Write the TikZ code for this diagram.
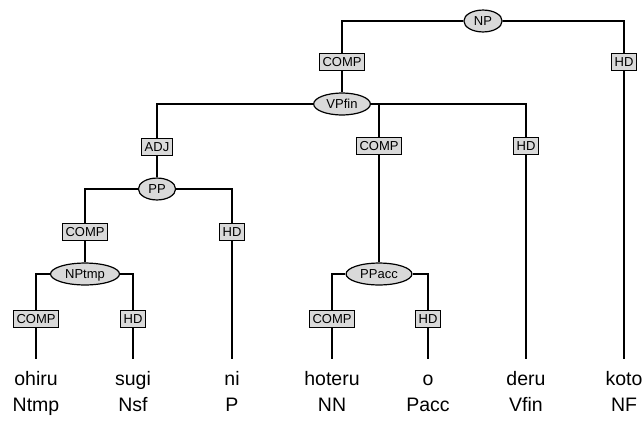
\documentclass[tikz,border=0pt]{standalone}
\usepackage{fontspec}
\setmainfont{Liberation Sans}
\usepackage{tikz}
\usetikzlibrary{shapes.geometric}
\definecolor{shade}{RGB}{217, 217, 217}

\begin{document}
\begin{tikzpicture}[x=1pt, y=-1pt, line width=1.2pt,
    cat/.style={ellipse, draw, fill=shade, font=\fontsize{13}{13}\selectfont,
      inner xsep=4.5pt, inner ysep=3pt, text height=9.5pt, text depth=0pt},
    fn/.style={rectangle, draw, fill=shade, font=\fontsize{13}{13}\selectfont,
      inner xsep=3pt, inner ysep=3.5pt, text height=9.5pt, text depth=0pt},
    word/.style={anchor=base, font=\fontsize{19.5}{19.5}\selectfont,
      inner xsep=0pt, inner ysep=11pt, text height=14pt},
    tag/.style={anchor=base, font=\fontsize{19.5}{19.5}\selectfont, inner sep=0pt}]
  \useasboundingbox (0, 0) rectangle (642, 421);

  \foreach \x/\w/\t [count=\i] in {36/ohiru/Ntmp, 133/sugi/Nsf, 232/ni/P,
      332/hoteru/NN, 428/o/Pacc, 526/deru/Vfin, 624/koto/NF} {
    \node[word] (w\i) at (\x, 385) {\w};
    \node[tag] (t\i) at (\x, 411) {\t};
  }

  \node[cat] (np) at (483, 21) {NP};
  \node[fn] (comp1) at (342, 62) {COMP};
  \node[fn] (hd1) at (624, 62) {HD};
  \node[cat] (vpfin) at (342, 104) {VPfin};
  \node[fn] (adj) at (157, 147) {ADJ};
  \node[fn] (comp2) at (379, 146) {COMP};
  \node[fn] (hd2) at (526, 146) {HD};
  \node[cat] (pp) at (157, 189) {PP};
  \node[fn] (comp3) at (85, 232) {COMP};
  \node[fn] (hd3) at (232, 232) {HD};
  \node[cat] (nptmp) at (85, 274) {NPtmp};
  \node[cat] (ppacc) at (379, 274) {PPacc};
  \node[fn] (comp4) at (36, 319) {COMP};
  \node[fn] (hd4) at (133, 319) {HD};
  \node[fn] (comp5) at (332, 319) {COMP};
  \node[fn] (hd5) at (428, 319) {HD};

  \draw (np) -| (comp1);
  \draw (np) -| (hd1);
  \draw (comp1) -- (vpfin);
  \draw (hd1) -- (w7);
  \draw (vpfin) -| (adj);
  \draw (vpfin) -| (comp2);
  \draw (vpfin) -| (hd2);
  \draw (adj) -- (pp);
  \draw (comp2) -- (ppacc);
  \draw (hd2) -- (w6);
  \draw (pp) -| (comp3);
  \draw (pp) -| (hd3);
  \draw (comp3) -- (nptmp);
  \draw (hd3) -- (w3);
  \draw (nptmp) -| (comp4);
  \draw (nptmp) -| (hd4);
  \draw (ppacc) -| (comp5);
  \draw (ppacc) -| (hd5);
  \draw (comp4) -- (w1);
  \draw (hd4) -- (w2);
  \draw (comp5) -- (w4);
  \draw (hd5) -- (w5);
\end{tikzpicture}
\end{document}
